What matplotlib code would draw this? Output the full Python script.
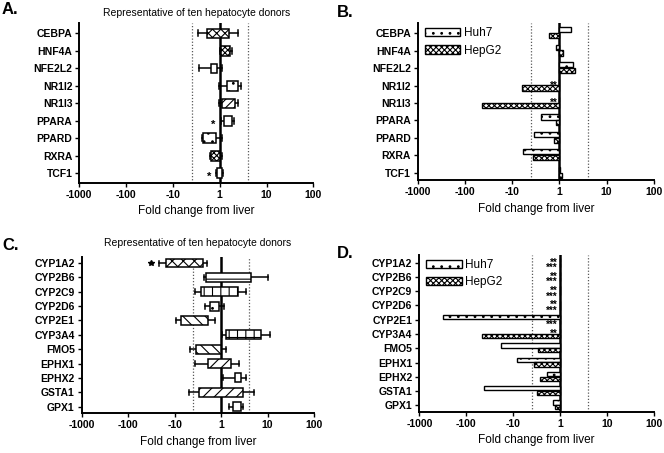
import matplotlib
matplotlib.use('Agg')
import matplotlib.pyplot as plt
import numpy as np
from matplotlib.patches import Patch

plt.rcParams['font.family'] = ['Liberation Sans', 'DejaVu Sans']
plt.rcParams['hatch.linewidth'] = 0.8

# ---- data: fold change from liver (negative = fold decrease) ----
tf_genes = ['CEBPA', 'HNF4A', 'NFE2L2', 'NR1I2', 'NR1I3', 'PPARA', 'PPARD', 'RXRA', 'TCF1']
cyp_genes = ['CYP1A2', 'CYP2B6', 'CYP2C9', 'CYP2D6', 'CYP2E1', 'CYP3A4',
             'FMO5', 'EPHX1', 'EPHX2', 'GSTA1', 'GPX1']

# panel A: hepatocyte box plots
tf_whislo = [-2.95, 1.0, -2.75, -1.05, -1.05, 1.07, -2.35, -1.6, -1.23]
tf_q1 = [-1.9, 1.07, -1.55, 1.41, 1.12, 1.26, -2.25, -1.5, -1.15]
tf_med = [1.0, 1.32, -1.32, 1.82, 1.62, 1.5, -1.6, -1.23, 1.0]
tf_q3 = [1.55, 1.66, -1.17, 2.5, 2.15, 1.82, -1.23, 1.02, 1.12]
tf_whishi = [2.4, 1.82, 1.12, 2.8, 2.4, 2.05, 1.12, 1.12, 1.17]
tf_hatch = ['xxxx', 'xxxxxx', '', '..', '////', '', '..', 'xxxxxx', '']

# panel B: cell lines
tf_huh7 = [1.8, -1.2, 1.9, 1.0, 1.0, -2.45, -3.4, -5.9, 1.05]
tf_hepg2 = [-1.7, 1.17, 2.15, -6.3, -43, -1.16, -1.32, -3.7, 1.15]

# panel C: hepatocyte box plots
cyp_whislo = [-21.4, -2.3, -3.7, -2.2, -9.5, 1.02, -4.6, -3.7, 1.1, -5.0, 1.45]
cyp_q1 = [-15.1, -2.15, -2.75, -1.7, -7.2, 1.3, -3.5, -1.95, 1.95, -2.95, 1.8]
cyp_med = [-6.2, -1.23, -1.23, -1.35, -3.7, 2.7, -1.8, -1.1, 2.3, 1.0, 2.2]
cyp_q3 = [-2.45, 4.3, 2.35, -1.1, -1.95, 7.1, 1.0, 1.6, 2.7, 2.95, 2.7]
cyp_whishi = [-2.0, 10.0, 3.5, 1.17, -1.35, 11.0, 1.3, 2.4, 3.5, 5.2, 2.95]
cyp_fliers = [[-31.6], [], [], [], [], [], [], [], [], [], []]
cyp_hatch = ['xxx', '--', '||', '..', '\\\\\\', '++', '\\\\\\', '///', '', '///', '']

# panel D: cell lines
cyp_huh7 = [1.0, 1.0, 1.0, 1.0, -310, 1.0, -18, -8.1, -1.9, -41, -1.4]
cyp_hepg2 = [1.0, 1.0, 1.0, 1.0, 1.0, -46, -3.0, -3.6, -2.6, -3.1, -1.3]

# significance marks: (row, cell line, text)
tf_stars = [(3, 'Huh7', '**'), (4, 'Huh7', '**')]
cyp_stars = [(0, 'Huh7', '**'), (0, 'HepG2', '***'), (1, 'Huh7', '**'), (1, 'HepG2', '***'),
             (2, 'Huh7', '**'), (2, 'HepG2', '***'), (3, 'Huh7', '**'), (3, 'HepG2', '***'),
             (4, 'HepG2', '***'), (5, 'Huh7', '**')]
tf_box_stars = [(5, -1.35), (8, -1.7)]

xticks = [-1000, -100, -10, 1, 10, 100]
xticklabels = ['-1000', '-100', '-10', '1', '10', '100']
TITLE = 'Representative of ten hepatocyte donors'


def fwd(x):
    x = np.asarray(x, dtype=float)
    a = np.maximum(np.abs(x), 1.0)
    return np.where(x < 0, -np.log10(a), np.log10(a))


def inv(u):
    u = np.asarray(u, dtype=float)
    return np.where(u < 0, -10.0 ** (-u), 10.0 ** u)


def style_axis(ax, genes, ylim):
    ax.set_xscale('function', functions=(fwd, inv))
    ax.set_xlim(-1000, 100)
    ax.set_ylim(*ylim)
    ax.set_xticks(xticks)
    ax.set_xticklabels(xticklabels)
    ax.set_yticks(np.arange(len(genes)))
    ax.set_yticklabels(genes)
    ax.minorticks_off()
    for s in ['top', 'right']:
        ax.spines[s].set_visible(False)
    for s in ['left', 'bottom']:
        ax.spines[s].set_linewidth(1.4)
    ax.tick_params(axis='both', length=3, width=1, labelsize=7.5, pad=2)
    for lab in ax.get_xticklabels() + ax.get_yticklabels():
        lab.set_fontweight('bold')
    ax.set_xlabel('Fold change from liver', fontsize=8.5, labelpad=4)
    ax.axvline(1, color='black', lw=1.8, zorder=1)
    for v in (-4, 4):
        ax.axvline(v, color='0.35', lw=0.9, ls=(0, (1, 1.5)), zorder=1)


def box_panel(ax, genes, whislo, q1, med, q3, whishi, hatches, fliers, widths, ylim):
    stats = []
    for i in range(len(genes)):
        stats.append(dict(whislo=whislo[i], q1=q1[i], med=med[i], q3=q3[i],
                          whishi=whishi[i], fliers=fliers[i]))
    pos = np.arange(len(genes))
    bp = ax.bxp(stats, positions=pos, widths=widths, orientation='horizontal',
                patch_artist=True, manage_ticks=False, capwidths=0.35,
                boxprops=dict(linewidth=1.1, edgecolor='black'),
                whiskerprops=dict(linewidth=1.1),
                capprops=dict(linewidth=1.1),
                medianprops=dict(color='black', linewidth=1.1),
                flierprops=dict(marker='*', markersize=4, markerfacecolor='black',
                                markeredgecolor='black'))
    for patch, h in zip(bp['boxes'], hatches):
        patch.set_facecolor('white')
        patch.set_hatch(h)
        patch.set_zorder(3)
    style_axis(ax, genes, ylim)
    return bp


def draw_stars(ax, stars, off):
    # stack marks that sit closer than half a row into one text block
    items = sorted((row + (off[0] if line == 'Huh7' else off[1]), txt) for row, line, txt in stars)
    groups = []
    for y, txt in items:
        if groups and y - groups[-1][-1][0] < 0.5:
            groups[-1].append((y, txt))
        else:
            groups.append([(y, txt)])
    for g in groups:
        ys = [y for y, _ in g]
        ax.text(-1.1, np.mean(ys) + 0.2, '\n'.join(t for _, t in g), ha='right', va='center',
                fontsize=7, fontweight='bold', linespacing=0.42, zorder=4)


def bar_panel(ax, genes, huh7, hepg2, stars, ylim, off=(-0.2, 0.14), h=0.3):
    pos = np.arange(len(genes))
    ax.barh(pos + off[0], np.array(huh7) - 1.0, left=1.0, height=h,
            facecolor='white', edgecolor='black', hatch='..', linewidth=1.0, zorder=3)
    ax.barh(pos + off[1], np.array(hepg2) - 1.0, left=1.0, height=h,
            facecolor='white', edgecolor='black', hatch='xxxxxx', linewidth=1.0, zorder=3)
    draw_stars(ax, stars, off)
    style_axis(ax, genes, ylim)
    handles = [Patch(facecolor='white', edgecolor='black', hatch='..', label='Huh7'),
               Patch(facecolor='white', edgecolor='black', hatch='xxxxxx', label='HepG2')]
    ax.legend(handles=handles, loc='upper left', bbox_to_anchor=(0.0, 1.02),
              frameon=False, fontsize=8.5, handlelength=3.0, handleheight=0.7,
              handletextpad=0.3, labelspacing=0.45, borderaxespad=0.2)


fig = plt.figure(figsize=(6.64, 4.53), dpi=100)

axA = fig.add_axes([0.1194, 0.5967, 0.3525, 0.3523])
box_panel(axA, tf_genes, tf_whislo, tf_q1, tf_med, tf_q3, tf_whishi, tf_hatch,
          [[] for _ in tf_genes], 0.55, (8.54, -0.59))
for row, x in tf_box_stars:
    axA.text(x, row + 0.22, '*', ha='center', va='center', fontsize=8, fontweight='bold')
axA.set_title(TITLE, fontsize=7.5, pad=5)

axB = fig.add_axes([0.6295, 0.6026, 0.355, 0.346])
bar_panel(axB, tf_genes, tf_huh7, tf_hepg2, tf_stars, (8.42, -0.57))

axC = fig.add_axes([0.123, 0.0876, 0.350, 0.3457])
box_panel(axC, cyp_genes, cyp_whislo, cyp_q1, cyp_med, cyp_q3, cyp_whishi, cyp_hatch,
          cyp_fliers, 0.62, (10.47, -0.44))
axC.set_title(TITLE, fontsize=7.5, pad=8)

axD = fig.add_axes([0.6315, 0.0912, 0.353, 0.3458])
bar_panel(axD, cyp_genes, cyp_huh7, cyp_hepg2, cyp_stars, (10.45, -0.54))

# panel letters
for txt, x, y in [('A.', 0.003, 0.978), ('B.', 0.508, 0.972),
                  ('C.', 0.003, 0.458), ('D.', 0.508, 0.44)]:
    fig.text(x, y, txt, fontsize=12, fontweight='bold', ha='left', va='center')

fig.savefig('out.png', dpi=100)
